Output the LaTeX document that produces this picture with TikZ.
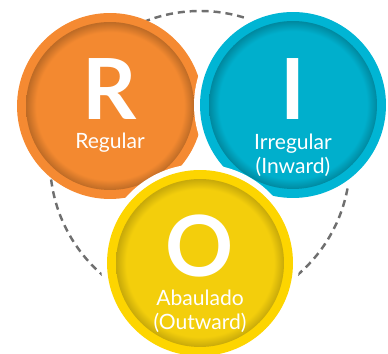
\documentclass[tikz,border=0pt]{standalone}
\usepackage{fontspec}
\setmainfont{Lato}
\usetikzlibrary{positioning}
\definecolor{regular}{HTML}{F58A32}
\definecolor{regularin}{HTML}{F38930}
\definecolor{inward}{HTML}{00B5D4}
\definecolor{inwardin}{HTML}{00AFCC}
\definecolor{outward}{HTML}{FDD500}
\definecolor{outwardin}{HTML}{F3CE0C}
\definecolor{guide}{HTML}{6F6F6F}
\colorlet{regularrim}{regularin!78!black}
\colorlet{inwardrim}{inwardin!78!black}
\colorlet{outwardrim}{outwardin!82!black}
\pgfdeclareradialshading{rimR}{\pgfpoint{0cm}{0cm}}{color(0bp)=(regularin); color(22bp)=(regularin); color(25bp)=(regularrim); color(50bp)=(regularrim)}
\pgfdeclareradialshading{rimI}{\pgfpoint{0cm}{0cm}}{color(0bp)=(inwardin); color(22bp)=(inwardin); color(25bp)=(inwardrim); color(50bp)=(inwardrim)}
\pgfdeclareradialshading{rimO}{\pgfpoint{0cm}{0cm}}{color(0bp)=(outwardin); color(22bp)=(outwardin); color(25bp)=(outwardrim); color(50bp)=(outwardrim)}

\begin{document}
\begin{tikzpicture}[x=0.02cm, y=0.02cm,
  halo/.style={circle, fill=white, minimum size=3.96cm, inner sep=0pt},
  disc/.style={circle, minimum size=3.72cm, inner sep=0pt},
  core/.style={circle, minimum size=3.36cm, inner sep=0pt, shade},
  letter/.style={text=white, inner sep=0pt, text depth=0pt,
                 font=\fontsize{48}{48}\selectfont\bfseries},
  caption/.style={text=white, inner sep=0pt, align=center,
                  font=\fontsize{12}{13.5}\selectfont},
]
  \useasboundingbox (0, 0) rectangle (388, 354);
  % dashed guide ring
  \draw[guide, line width=1.4pt, dash pattern=on 4pt off 2.8pt] (200, 193) circle[radius=150];

  % R
  \node[disc, fill=regular] (R) at (110, 248) {};
  \node[core, shading=rimR] (Rc) at (R) {};
  \node[letter] (Rl) at (110, 265) {R};
  \node[caption] (Rt) at (110, 211) {Regular};

  % I
  \node[halo] (Ih) at (293, 249) {};
  \node[disc, fill=inward] (I) at (Ih) {};
  \node[core, shading=rimI] (Ic) at (I) {};
  \node[letter] (Il) at (293, 265) {I};
  \node[caption] (It) at (293, 199) {Irregular\\(Inward)};

  % O
  \node[halo] (Oh) at (200, 91) {};
  \node[disc, fill=outward] (O) at (Oh) {};
  \node[core, shading=rimO] (Oc) at (O) {};
  \node[letter] (Ol) at (200, 108) {O};
  \node[caption] (Ot) at (200, 43) {Abaulado\\(Outward)};
\end{tikzpicture}
\end{document}
